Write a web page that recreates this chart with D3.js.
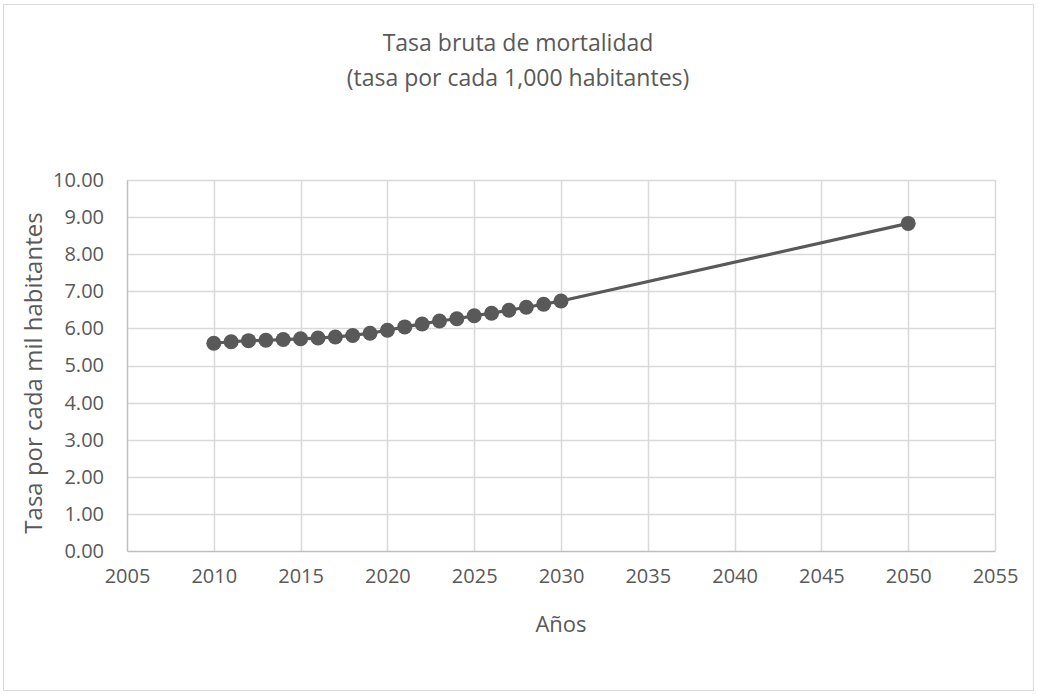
<!DOCTYPE html>
<html>
<head>
<meta charset="utf-8">
<script src="https://cdn.jsdelivr.net/npm/d3@7"></script>
<style>
  body { margin: 0; background: #fff; }
  text { font-family: "Open Sans", sans-serif; fill: #595959; }
</style>
</head>
<body>
<div id="chart"></div>
<script>
  // data
  var years = [2010, 2011, 2012, 2013, 2014, 2015, 2016, 2017, 2018, 2019, 2020,
    2021, 2022, 2023, 2024, 2025, 2026, 2027, 2028, 2029, 2030, 2050];
  var rates = [5.60, 5.64, 5.67, 5.68, 5.70, 5.72, 5.74, 5.77, 5.81, 5.87, 5.95,
    6.04, 6.12, 6.20, 6.26, 6.34, 6.41, 6.49, 6.57, 6.65, 6.74, 8.83];
  var xTicks = [2005, 2010, 2015, 2020, 2025, 2030, 2035, 2040, 2045, 2050, 2055];
  var yTicks = [0, 1, 2, 3, 4, 5, 6, 7, 8, 9, 10];

  var width = 1038, height = 695;
  var margin = {top: 180, right: 43, bottom: 144, left: 127};
  var innerWidth = width - margin.left - margin.right;
  var innerHeight = height - margin.top - margin.bottom;

  var svg = d3.select("#chart").append("svg")
    .attr("width", width).attr("height", height);

  // chart border
  svg.append("rect")
    .attr("x", 3.5).attr("y", 4.5)
    .attr("width", 1030).attr("height", 686)
    .attr("fill", "#fff").attr("stroke", "#d9d9d9");

  var g = svg.append("g")
    .attr("transform", "translate(" + margin.left + "," + margin.top + ")");

  var x = d3.scaleLinear().domain([2005, 2055]).range([0, innerWidth]);
  var y = d3.scaleLinear().domain([0, 10]).range([innerHeight, 0]);

  // gridlines
  g.append("g").selectAll("line").data(yTicks.slice(1)).enter().append("line")
    .attr("x1", 0).attr("x2", innerWidth)
    .attr("y1", function (d) { return Math.round(y(d)) + 0.5; })
    .attr("y2", function (d) { return Math.round(y(d)) + 0.5; })
    .attr("stroke", "#d9d9d9").attr("stroke-width", 1.5);
  g.append("g").selectAll("line").data(xTicks.slice(1)).enter().append("line")
    .attr("y1", 0).attr("y2", innerHeight)
    .attr("x1", function (d) { return Math.round(x(d)) + 0.5; })
    .attr("x2", function (d) { return Math.round(x(d)) + 0.5; })
    .attr("stroke", "#d9d9d9").attr("stroke-width", 1.5);

  // axes
  var xAxis = d3.axisBottom(x).tickValues(xTicks).tickFormat(d3.format("d")).tickSize(0).tickPadding(18);
  var xAxisG = g.append("g").attr("transform", "translate(0," + innerHeight + ")").call(xAxis);
  xAxisG.select(".domain").attr("stroke", "#bfbfbf").attr("stroke-width", 1.5);
  xAxisG.selectAll("text").style("font-size", "20px").attr("fill", "#595959");

  var yAxis = d3.axisLeft(y).tickValues(yTicks).tickFormat(d3.format(".2f")).tickSize(0).tickPadding(23);
  var yAxisG = g.append("g").call(yAxis);
  yAxisG.select(".domain").attr("stroke", "#bfbfbf").attr("stroke-width", 1.5);
  yAxisG.selectAll("text").style("font-size", "20px").attr("fill", "#595959");

  // series
  var pts = years.map(function (yr, i) { return {year: yr, value: rates[i]}; });
  var line = d3.line()
    .x(function (d) { return x(d.year); })
    .y(function (d) { return y(d.value); });
  g.append("path").datum(pts)
    .attr("d", line).attr("fill", "none")
    .attr("stroke", "#595959").attr("stroke-width", 3.2);
  g.selectAll("circle.pt").data(pts).enter().append("circle")
    .attr("class", "pt")
    .attr("cx", function (d) { return x(d.year); })
    .attr("cy", function (d) { return y(d.value); })
    .attr("r", 7.5)
    .attr("fill", "#595959");

  // titles
  svg.append("text").attr("x", 518).attr("y", 51).attr("text-anchor", "middle")
    .style("font-size", "23px").text("Tasa bruta de mortalidad");
  svg.append("text").attr("x", 518).attr("y", 86).attr("text-anchor", "middle")
    .style("font-size", "23px").text("(tasa por cada 1,000 habitantes)");
  svg.append("text").attr("x", margin.left + innerWidth / 2).attr("y", 632).attr("text-anchor", "middle")
    .style("font-size", "22px").text("Años");
  svg.append("text")
    .attr("transform", "translate(42,373) rotate(-90)")
    .attr("text-anchor", "middle")
    .style("font-size", "24px").text("Tasa por cada mil habitantes");
</script>
</body>
</html>
